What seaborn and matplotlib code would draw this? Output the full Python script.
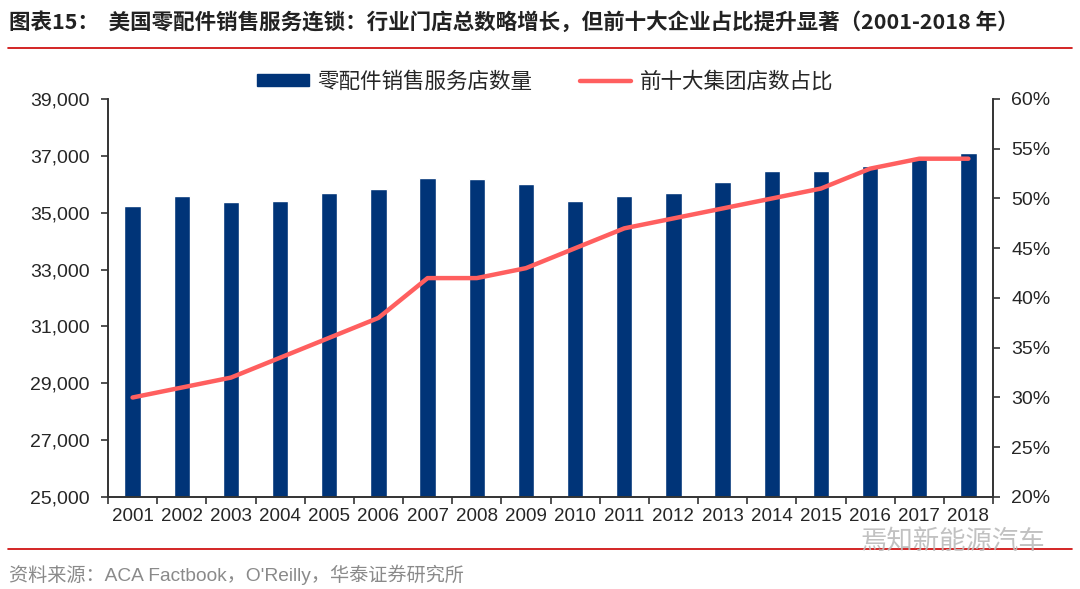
import numpy as np
import pandas as pd
import seaborn as sns
import matplotlib.pyplot as plt
from matplotlib.ticker import FuncFormatter, FixedLocator
from matplotlib.lines import Line2D

years = [str(y) for y in range(2001, 2019)]
store_counts = [35250, 35600, 35380, 35420, 35700, 35850, 36230, 36170, 36000,
                35420, 35590, 35710, 36080, 36450, 36460, 36630, 36900, 37110]
top10_share = [30, 31, 32, 34, 36, 38, 42, 42, 43,
               45, 47, 48, 49, 50, 51, 53, 54, 54]

bar_label = "零配件销售服务店数量"
line_label = "前十大集团店数占比"
title = "图表15：  美国零配件销售服务连锁：行业门店总数略增长，但前十大企业占比提升显著（2001-2018 年）"
source = "资料来源：ACA Factbook，O'Reilly，华泰证券研究所"

bar_color = "#003478"
line_color = "#FF5F5F"

sns.set_theme(style="white")
plt.rcParams['font.family'] = ['Liberation Sans', 'Noto Sans CJK SC', 'DejaVu Sans']
cjk = ['Noto Sans CJK SC', 'Liberation Sans', 'DejaVu Sans']
latin_first = ['Liberation Sans', 'Noto Sans CJK SC', 'DejaVu Sans']

df = pd.DataFrame({"year": years, "stores": store_counts, "share": top10_share})

fig = plt.figure(figsize=(10.8, 5.89), dpi=100)
ax = fig.add_axes([108 / 1080, 1 - 497 / 589, 885 / 1080, 398 / 589])

sns.barplot(data=df, x="year", y="stores", color=bar_color, width=0.33,
            saturation=1, ax=ax)
ax.set_ylim(25000, 39000)
ax.set_yticks(range(25000, 39001, 2000))
ax.yaxis.set_major_formatter(FuncFormatter(lambda v, p: f"{int(v):,}"))
ax.set_xlabel("")
ax.set_ylabel("")

ax2 = ax.twinx()
sns.pointplot(data=df, x="year", y="share", color=line_color, markers="",
              linewidth=3.2, ax=ax2)
ax2.set_ylim(20, 60)
ax2.set_yticks(range(20, 61, 5))
ax2.yaxis.set_major_formatter(FuncFormatter(lambda v, p: f"{int(v)}%"))
ax2.set_ylabel("")
ax2.set_xlabel("")
ax.set_xlim(-0.5, 17.5)

for a in (ax, ax2):
    for s in a.spines.values():
        s.set_color("#333333")
        s.set_linewidth(1.2)
    a.spines["top"].set_visible(False)

ax.tick_params(axis="y", direction="out", length=5, width=1.2, color="#333333",
               labelsize=14, pad=8, left=True)
ax2.tick_params(axis="y", direction="out", length=5, width=1.2, color="#333333",
                labelsize=14, pad=8, right=True)
ax.tick_params(axis="x", which="major", length=0, labelsize=13.5, pad=8)
ax.xaxis.set_minor_locator(FixedLocator(np.arange(-0.5, 18, 1)))
ax.tick_params(axis="x", which="minor", direction="out", length=5, width=1.2,
               color="#333333", bottom=True)
ax.set_xticks(range(len(years)))
ax.set_xticklabels(years)

handles = [plt.Rectangle((0, 0), 1, 1, color=bar_color),
           Line2D([0], [0], color=line_color, linewidth=3.2)]
fig.legend(handles, [bar_label, line_label], loc="center",
           bbox_to_anchor=(0.505, 1 - 82 / 589), ncol=2, frameon=False,
           prop={"family": cjk, "size": 15.5}, handlelength=2.4,
           handleheight=0.5, columnspacing=2.2, handletextpad=0.4)

fig.text(0.008, 1 - 22 / 589, title, fontsize=15.5, fontweight="bold",
         family=cjk, color="#222222", va="center", ha="left")
fig.add_artist(Line2D([8 / 1080, 1072 / 1080], [1 - 48 / 589, 1 - 48 / 589],
                      color="#CC0000", linewidth=1.2))
fig.add_artist(Line2D([8 / 1080, 1072 / 1080], [1 - 549 / 589, 1 - 549 / 589],
                      color="#CC0000", linewidth=1.2))
fig.text(0.008, 1 - 575 / 589, source, fontsize=13.8, family=latin_first,
         color="#8a8a8a", va="center", ha="left")
fig.text(1045 / 1080, 1 - 541 / 589, "焉知新能源汽车", fontsize=19, family=cjk,
         color="#bbbbbb", va="center", ha="right", alpha=0.9)

fig.savefig("out.png", dpi=100)
